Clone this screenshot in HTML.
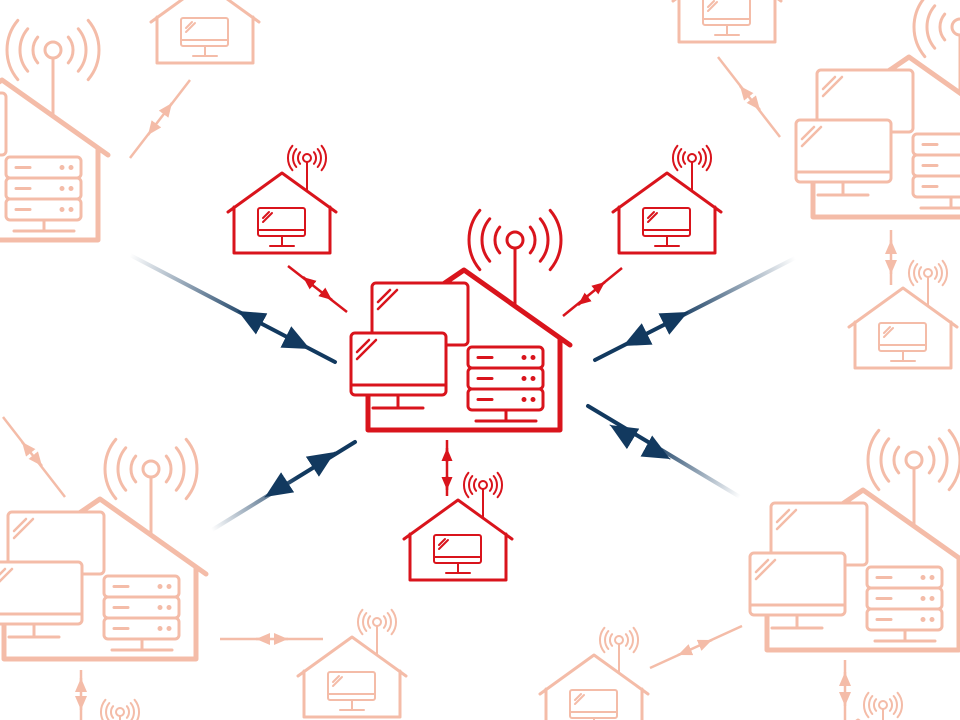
<!DOCTYPE html>
<html><head><meta charset="utf-8"><style>html,body{margin:0;padding:0;background:#fff;width:960px;height:720px;overflow:hidden}svg{display:block}</style></head>
<body>
<svg width="960" height="720" viewBox="0 0 960 720" xmlns="http://www.w3.org/2000/svg" style="overflow:hidden">
<defs>
<symbol id="big" overflow="visible">
 <g fill="none" stroke="currentColor" stroke-linecap="round" stroke-linejoin="round">
  <path d="M-25 17 L0 0 L106 75 M96 68 L96 160 L-96 160 L-96 125" stroke-width="5"/>
  <circle cx="51" cy="-30" r="8" stroke-width="3"/>
  <path d="M51 -22 L51 36" stroke-width="3"/>
  <path d="M35.7 -42.9 A20 20 0 0 0 35.7 -17.1 M66.3 -42.9 A20 20 0 0 1 66.3 -17.1 M25.7 -51.2 A33 33 0 0 0 25.7 -8.8 M76.3 -51.2 A33 33 0 0 1 76.3 -8.8 M15.8 -59.6 A46 46 0 0 0 15.8 -0.4 M86.2 -59.6 A46 46 0 0 1 86.2 -0.4" stroke-width="3"/>
  <rect x="-92" y="13" width="96" height="62" rx="4" fill="#fff" stroke-width="3"/>
  <path d="M-86 32 L-74 20 M-86 39 L-67 20" stroke-width="2.5"/>
  <rect x="-113" y="63" width="95" height="62" rx="4" fill="#fff" stroke-width="3"/>
  <path d="M-113 115 L-18 115 M-66 125 L-66 138 M-91 138 L-41 138" stroke-width="3"/>
  <path d="M-107 82 L-95 70 M-107 89 L-88 70" stroke-width="2.5"/>
  <rect x="4" y="77" width="75" height="21" rx="4" stroke-width="3"/>
  <rect x="4" y="98" width="75" height="21" rx="4" stroke-width="3"/>
  <rect x="4" y="119" width="75" height="21" rx="4" stroke-width="3"/>
  <path d="M14 87.5 L28 87.5 M14 108.5 L28 108.5 M14 129.5 L28 129.5 M42 140 L42 151 M12 151 L72 151" stroke-width="3"/>
 </g>
 <g fill="currentColor">
  <circle cx="60" cy="87.5" r="2.5"/><circle cx="69" cy="87.5" r="2.5"/>
  <circle cx="60" cy="108.5" r="2.5"/><circle cx="69" cy="108.5" r="2.5"/>
  <circle cx="60" cy="129.5" r="2.5"/><circle cx="69" cy="129.5" r="2.5"/>
 </g>
</symbol>
<symbol id="small" overflow="visible">
 <g fill="none" stroke="currentColor" stroke-linecap="round" stroke-linejoin="round">
  <path d="M-54 39 L0 0 L54 39 M-48 34 L-48 80 L48 80 L48 34" stroke-width="3"/>
  <rect x="-24" y="35" width="47" height="28" rx="2" stroke-width="2"/>
  <path d="M-24 57 L23 57 M0 63 L0 73 M-12 73 L12 73 M-19 45 L-13 39 M-19 49 L-10 40" stroke-width="2"/>
  <circle cx="25" cy="-15" r="4" stroke-width="2"/>
  <path d="M25 -11 L25 18" stroke-width="2"/>
  <path d="M18.1 -20.8 A9 9 0 0 0 18.1 -9.2 M31.9 -20.8 A9 9 0 0 1 31.9 -9.2 M14.3 -24 A14 14 0 0 0 14.3 -6 M35.7 -24 A14 14 0 0 1 35.7 -6 M10.4 -27.2 A19 19 0 0 0 10.4 -2.8 M39.6 -27.2 A19 19 0 0 1 39.6 -2.8" stroke-width="2"/>
 </g>
</symbol>
<marker id="mb" markerUnits="userSpaceOnUse" markerWidth="34" markerHeight="30" refX="27" refY="12" orient="auto"><path d="M0 0 L27 12 L0 24 Z" fill="#12395f"/></marker>
<marker id="mr" markerUnits="userSpaceOnUse" markerWidth="16" markerHeight="14" refX="13" refY="5.5" orient="auto"><path d="M0 0 L13 5.5 L0 11 Z" fill="#d9141c"/></marker>
<marker id="mp" markerUnits="userSpaceOnUse" markerWidth="16" markerHeight="14" refX="14" refY="6" orient="auto"><path d="M0 0 L14 6 L0 12 Z" fill="#f4bca8"/></marker>
<linearGradient id="g1" gradientUnits="userSpaceOnUse" x1="130" y1="255" x2="335" y2="362"><stop offset="0" stop-color="#12395f" stop-opacity="0"/><stop offset="0.6" stop-color="#12395f"/></linearGradient>
<linearGradient id="g2" gradientUnits="userSpaceOnUse" x1="795" y1="258" x2="595" y2="360"><stop offset="0" stop-color="#12395f" stop-opacity="0"/><stop offset="0.6" stop-color="#12395f"/></linearGradient>
<linearGradient id="g3" gradientUnits="userSpaceOnUse" x1="212" y1="530" x2="355" y2="442"><stop offset="0" stop-color="#12395f" stop-opacity="0"/><stop offset="0.6" stop-color="#12395f"/></linearGradient>
<linearGradient id="g4" gradientUnits="userSpaceOnUse" x1="740" y1="497" x2="588" y2="406"><stop offset="0" stop-color="#12395f" stop-opacity="0"/><stop offset="0.6" stop-color="#12395f"/></linearGradient>
</defs>

<g style="color:#f4bca8">
 <use href="#big" x="2" y="80"/>
 <use href="#big" x="909" y="57"/>
 <use href="#big" x="100" y="499"/>
 <use href="#big" x="863" y="490"/>
 <use href="#small" x="205" y="-17"/>
 <use href="#small" x="727" y="-38"/>
 <use href="#small" x="903" y="288"/>
 <use href="#small" x="352" y="637"/>
 <use href="#small" x="594" y="655"/>
 <use href="#small" x="95" y="727"/>
 <use href="#small" x="858" y="720"/>
</g>
<g stroke="#f4bca8" stroke-width="2.5" fill="none">
 <line x1="190" y1="80" x2="130" y2="158"/><path d="M166 111 L172 103" marker-end="url(#mp)"/><path d="M154 127 L148 135" marker-end="url(#mp)"/>
 <line x1="718" y1="57" x2="780" y2="137"/><path d="M748 96 L740 86" marker-end="url(#mp)"/><path d="M752 100 L760 110" marker-end="url(#mp)"/>
 <line x1="891" y1="230" x2="891" y2="285"/><path d="M891 252 L891 240" marker-end="url(#mp)"/><path d="M891 262 L891 274" marker-end="url(#mp)"/>
 <line x1="3" y1="417" x2="65" y2="497"/><path d="M30 452 L22 442" marker-end="url(#mp)"/><path d="M34 456 L42 466" marker-end="url(#mp)"/>
 <line x1="81" y1="670" x2="81" y2="720"/><path d="M81 690 L81 678" marker-end="url(#mp)"/><path d="M81 698 L81 710" marker-end="url(#mp)"/>
 <line x1="220" y1="639" x2="323" y2="639"/><path d="M268 639 L256 639" marker-end="url(#mp)"/><path d="M276 639 L288 639" marker-end="url(#mp)"/>
 <line x1="650" y1="668" x2="742" y2="626"/><path d="M690 650 L678 655" marker-end="url(#mp)"/><path d="M700 645 L712 640" marker-end="url(#mp)"/>
 <line x1="845" y1="660" x2="845" y2="720"/><path d="M845 684 L845 672" marker-end="url(#mp)"/><path d="M845 694 L845 706" marker-end="url(#mp)"/>
</g>

<g stroke-width="4" fill="none" stroke-linecap="round">
 <line x1="130" y1="255" x2="335" y2="362" stroke="url(#g1)"/>
 <path d="M260 323 L238 311" stroke="#12395f" stroke-width="1" marker-end="url(#mb)"/>
 <path d="M290 339 L310 349" stroke="#12395f" stroke-width="1" marker-end="url(#mb)"/>
 <line x1="795" y1="258" x2="595" y2="360" stroke="url(#g2)"/>
 <path d="M666 323 L688 312" stroke="#12395f" stroke-width="1" marker-end="url(#mb)"/>
 <path d="M643 336 L623 346" stroke="#12395f" stroke-width="1" marker-end="url(#mb)"/>
 <line x1="212" y1="530" x2="355" y2="442" stroke="url(#g3)"/>
 <path d="M315 465 L335 452" stroke="#12395f" stroke-width="1" marker-end="url(#mb)"/>
 <path d="M285 484 L265 497" stroke="#12395f" stroke-width="1" marker-end="url(#mb)"/>
 <line x1="740" y1="497" x2="588" y2="406" stroke="url(#g4)"/>
 <path d="M630 437 L610 425" stroke="#12395f" stroke-width="1" marker-end="url(#mb)"/>
 <path d="M650 448 L670 459" stroke="#12395f" stroke-width="1" marker-end="url(#mb)"/>
</g>

<g style="color:#d9141c">
 <use href="#big" x="464" y="270"/>
 <use href="#small" x="282" y="173"/>
 <use href="#small" x="667" y="173"/>
 <use href="#small" x="458" y="500"/>
</g>
<g stroke="#d9141c" stroke-width="2.5" fill="none">
 <line x1="288" y1="266" x2="347" y2="312"/><path d="M313 285 L303 277" marker-end="url(#mr)"/><path d="M322 292 L332 300" marker-end="url(#mr)"/>
 <line x1="622" y1="268" x2="563" y2="316"/><path d="M595 290 L605 282" marker-end="url(#mr)"/><path d="M588 297 L578 305" marker-end="url(#mr)"/>
 <line x1="447" y1="440" x2="447" y2="496"/><path d="M447 462 L447 448" marker-end="url(#mr)"/><path d="M447 476 L447 490" marker-end="url(#mr)"/>
</g>
</svg>
</body></html>
